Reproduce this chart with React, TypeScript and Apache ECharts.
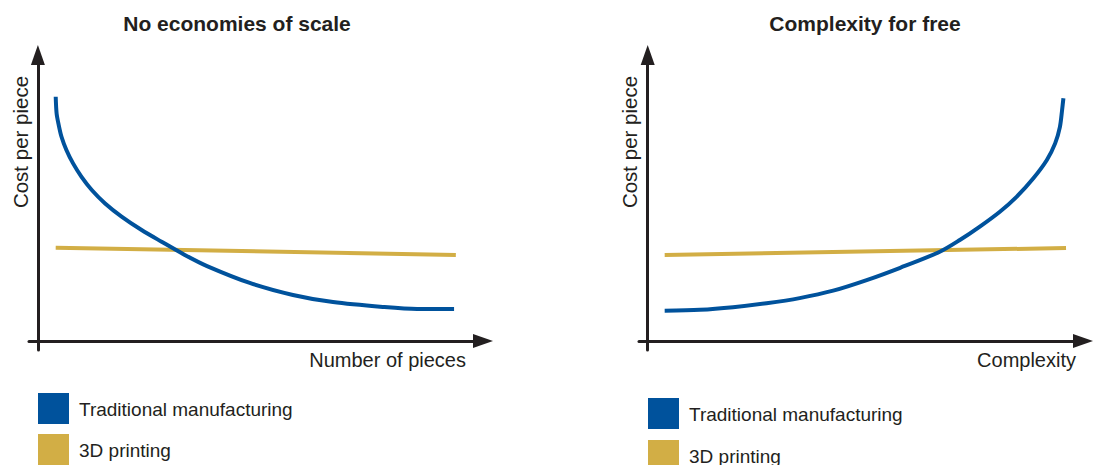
import React, { useEffect, useRef } from "react";
import * as echarts from "echarts";

// Left chart: cost per piece vs number of pieces (abstract units 0..100)
const scaleTraditional: [number, number][] = [
  [4.0, 85.4], [4.2, 79.6], [4.6, 76.1], [5.3, 71.4], [6.4, 66.8], [7.9, 62.1],
  [9.8, 57.4], [12.1, 52.8], [15.1, 48.1], [18.8, 43.5], [23.3, 38.8], [27.8, 34.7],
  [33.0, 30.1], [38.0, 26.2], [47.6, 20.3], [57.3, 16.1], [66.3, 13.6], [77.5, 11.9],
  [85.2, 11.2], [93.5, 11.2],
];
const scalePrinting: [number, number][] = [
  [4.0, 32.6], [93.9, 30.1],
];

// Right chart: cost per piece vs complexity
const complexityTraditional: [number, number][] = [
  [3.9, 10.6], [12.0, 10.9], [19.6, 11.8], [27.3, 13.2], [34.9, 15.0], [42.6, 17.6],
  [50.3, 21.3], [58.0, 25.6], [67.1, 31.2], [71.7, 35.3], [76.3, 40.0], [80.9, 45.2],
  [84.8, 50.5], [88.6, 56.9], [91.7, 63.3], [93.6, 69.1], [94.7, 74.9], [95.2, 80.8],
  [95.5, 84.9],
];
const complexityPrinting: [number, number][] = [
  [3.9, 30.1], [96.1, 32.5],
];

const titles = ["No economies of scale", "Complexity for free"];
const xNames = ["Number of pieces", "Complexity"];
const yName = "Cost per piece";
const seriesNames = ["Traditional manufacturing", "3D printing"];

const BLUE = "#00529c";
const GOLD = "#d2ae45";
const INK = "#231f20";
const FONT = "Liberation Sans, Arial, sans-serif";

export default function App() {
  const ref = useRef<HTMLDivElement>(null);
  useEffect(() => {
    if (!ref.current) return;
    const chart = echarts.init(ref.current, undefined, { renderer: "svg" });

    const axisLine = {
      show: true,
      onZero: true,
      symbol: ["none", "triangle"],
      symbolSize: [14, 20],
      lineStyle: { color: INK, width: 3 },
    };
    const mkX = (gi: number) => ({
      type: "value",
      gridIndex: gi,
      min: -2,
      max: 100,
      axisLine,
      axisTick: { show: false },
      axisLabel: { show: false },
      splitLine: { show: false },
    });
    const mkY = (gi: number) => ({
      type: "value",
      gridIndex: gi,
      min: -3.15,
      max: 100,
      axisLine,
      axisTick: { show: false },
      axisLabel: { show: false },
      splitLine: { show: false },
    });
    const line = (name: string, data: [number, number][], color: string, gi: number, z: number) => ({
      type: "line",
      name,
      data,
      xAxisIndex: gi,
      yAxisIndex: gi,
      smooth: 0.3,
      showSymbol: false,
      symbol: "none",
      z,
      itemStyle: { color },
      lineStyle: { color, width: 4 },
    });

    const text = (t: string, x: number, y: number, opts: any = {}) => ({
      type: "text",
      x,
      y,
      rotation: opts.rotation || 0,
      style: {
        text: t,
        fontSize: opts.fontSize || 19,
        fontWeight: opts.bold ? "bold" : "normal",
        fontFamily: FONT,
        fill: INK,
        align: opts.align || "center",
        verticalAlign: "middle",
      },
    });
    const swatch = (x: number, y: number, color: string) => ({
      type: "rect",
      shape: { x, y, width: 31, height: 31 },
      style: { fill: color },
    });

    chart.setOption({
      animation: false,
      backgroundColor: "#ffffff",
      grid: [
        { left: 29, top: 55, width: 454, height: 295 },
        { left: 639, top: 55, width: 444, height: 295 },
      ],
      xAxis: [mkX(0), mkX(1)],
      yAxis: [mkY(0), mkY(1)],
      series: [
        line(seriesNames[1], scalePrinting, GOLD, 0, 2),
        line(seriesNames[0], scaleTraditional, BLUE, 0, 3),
        line(seriesNames[1], complexityPrinting, GOLD, 1, 2),
        line(seriesNames[0], complexityTraditional, BLUE, 1, 3),
      ],
      graphic: [
        text(titles[0], 237, 23, { bold: true, fontSize: 21 }),
        text(titles[1], 865, 23, { bold: true, fontSize: 21 }),
        text(yName, 20, 142, { rotation: Math.PI / 2, fontSize: 20.5 }),
        text(yName, 629, 142, { rotation: Math.PI / 2, fontSize: 20.5 }),
        text(xNames[0], 466, 360, { align: "right", fontSize: 20 }),
        text(xNames[1], 1076, 360, { align: "right", fontSize: 20 }),
        swatch(38, 393, BLUE),
        swatch(38, 434, GOLD),
        text(seriesNames[0], 79, 409, { align: "left" }),
        text(seriesNames[1], 79, 450, { align: "left" }),
        swatch(648, 398, BLUE),
        swatch(648, 440, GOLD),
        text(seriesNames[0], 689, 414, { align: "left" }),
        text(seriesNames[1], 689, 456, { align: "left" }),
      ],
    });
    return () => chart.dispose();
  }, []);
  return (
    <div
      ref={ref}
      style={{ position: "fixed", left: 0, top: 0, width: 1094, height: 465 }}
    />
  );
}
